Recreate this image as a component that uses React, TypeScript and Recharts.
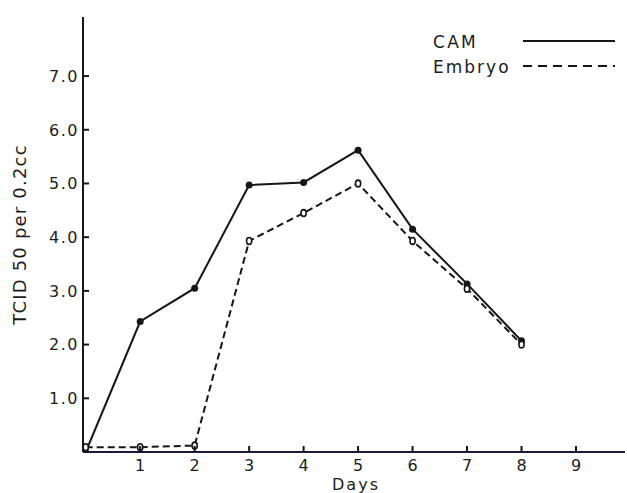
import React from 'react';
import { LineChart, Line, XAxis, YAxis, Legend } from 'recharts';

const days = [0, 1, 2, 3, 4, 5, 6, 7, 8];
const camValues = [0, 2.43, 3.05, 4.97, 5.02, 5.62, 4.15, 3.13, 2.07];
const embryoValues = [0.09, 0.09, 0.12, 3.93, 4.45, 5.0, 3.93, 3.04, 2.0];
const xTicks = [1, 2, 3, 4, 5, 6, 7, 8, 9];
const yTicks = [1, 2, 3, 4, 5, 6, 7];
const seriesNames = ['CAM', 'Embryo'];
const xLabel = 'Days';
const yLabel = 'TCID 50 per 0.2cc';

const data = days.map((d, i) => ({ day: d, cam: camValues[i], embryo: embryoValues[i] }));

const INK = '#161616';
const TEXT = '#1c1c1c';
const FONT = '"DejaVu Sans", "Liberation Sans", sans-serif';

const YTick = (props: any) => {
  const { x, y, payload } = props;
  return (
    <g>
      <line x1={x} x2={x + 6} y1={y} y2={y} stroke={INK} strokeWidth={2} />
      <text x={x - 4} y={y} dy="0.36em" textAnchor="end" fontFamily={FONT} fontSize={16} letterSpacing={1.5} fill={TEXT}>
        {Number(payload.value).toFixed(1)}
      </text>
    </g>
  );
};

const XTick = (props: any) => {
  const { x, y, payload } = props;
  return (
    <g>
      <line x1={x} x2={x} y1={y - 6} y2={y} stroke={INK} strokeWidth={2} />
      <text x={x} y={y + 19} textAnchor="middle" fontFamily={FONT} fontSize={16} fill={TEXT}>
        {payload.value}
      </text>
    </g>
  );
};

const XLabel = (props: any) => {
  const { viewBox } = props;
  const cx = viewBox.x + viewBox.width / 2;
  return (
    <text x={cx + 2} y={viewBox.y + viewBox.height - 3} textAnchor="middle" fontFamily={FONT} fontSize={16} letterSpacing={2} fill={TEXT}>
      {xLabel}
    </text>
  );
};

const YLabel = (props: any) => {
  const { viewBox } = props;
  const cy = viewBox.y + viewBox.height / 2;
  const cx = 20;
  return (
    <text x={cx} y={cy} transform={`rotate(-90 ${cx} ${cy})`} dy="0.36em" textAnchor="middle" fontFamily={FONT} fontSize={18} letterSpacing={1.2} fill={TEXT}>
      {yLabel}
    </text>
  );
};

const CamDot = (props: any) => {
  const { cx, cy, index } = props;
  return <circle key={`c${index}`} cx={cx} cy={cy} r={3.5} fill={INK} stroke="none" />;
};

const EmbryoDot = (props: any) => {
  const { cx, cy, index } = props;
  return <ellipse key={`e${index}`} cx={cx} cy={cy} rx={2.6} ry={3.4} fill="#fff" stroke={INK} strokeWidth={1.6} />;
};

const renderLegend = () => (
  <svg width={207} height={70} style={{ display: 'block' }}>
    <text x={13} y={28} fontFamily={FONT} fontSize={17} letterSpacing={2.3} fill={TEXT}>{seriesNames[0]}</text>
    <line x1={103} x2={195} y1={21} y2={21} stroke={INK} strokeWidth={2} />
    <text x={13} y={53} fontFamily={FONT} fontSize={17} letterSpacing={2} fill={TEXT}>{seriesNames[1]}</text>
    <line x1={103} x2={195} y1={46} y2={46} stroke={INK} strokeWidth={2} strokeDasharray="9 6" />
  </svg>
);

export default function App() {
  return (
    <div style={{ position: 'absolute', left: 0, top: 0, background: '#fff' }}>
      <LineChart width={627} height={493} data={data} margin={{ top: 17, right: 2, left: 0, bottom: 0 }}>
        <XAxis
          dataKey="day"
          type="number"
          domain={[-0.05, 9.9]}
          ticks={xTicks}
          allowDataOverflow
          height={41}
          tickSize={0}
          tickMargin={0}
          tickLine={false}
          axisLine={{ stroke: '#1a1a36', strokeWidth: 2 }}
          tick={<XTick />}
          interval={0}
          label={<XLabel />}
        />
        <XAxis
          xAxisId="top"
          orientation="top"
          dataKey="day"
          type="number"
          domain={[-0.05, 9.9]}
          height={0}
          tick={false}
          tickLine={false}
          axisLine={{ stroke: INK, strokeWidth: 2 }}
        />
        <YAxis
          type="number"
          domain={[0, 8.1]}
          ticks={yTicks}
          allowDataOverflow
          width={83}
          tickSize={0}
          tickMargin={0}
          tickLine={false}
          axisLine={{ stroke: INK, strokeWidth: 2 }}
          tick={<YTick />}
          interval={0}
          label={<YLabel />}
        />
        <YAxis
          yAxisId="right"
          orientation="right"
          type="number"
          domain={[0, 8.1]}
          width={0}
          tick={false}
          tickLine={false}
          axisLine={{ stroke: '#444', strokeWidth: 1.5 }}
        />
        <Legend
          layout="horizontal"
          align="center"
          verticalAlign="middle"
          content={renderLegend}
          wrapperStyle={{ position: 'absolute', left: 420, top: 20, width: 207, height: 70 }}
        />
        <Line
          type="linear"
          dataKey="cam"
          name={seriesNames[0]}
          stroke={INK}
          strokeWidth={2}
          dot={<CamDot />}
          activeDot={false}
          isAnimationActive={false}
        />
        <Line
          type="linear"
          dataKey="embryo"
          name={seriesNames[1]}
          stroke={INK}
          strokeWidth={2}
          strokeDasharray="7 4"
          dot={<EmbryoDot />}
          activeDot={false}
          isAnimationActive={false}
        />
      </LineChart>
    </div>
  );
}
